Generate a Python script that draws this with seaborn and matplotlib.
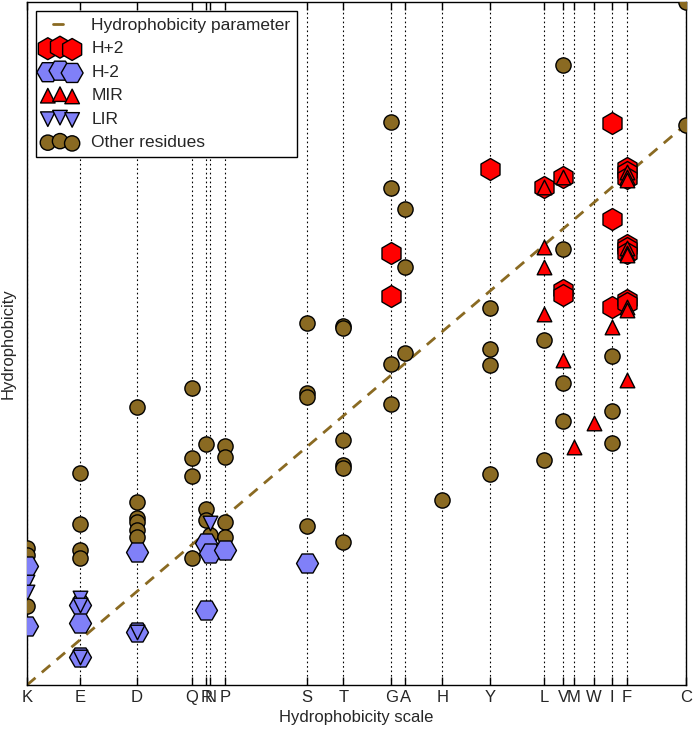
import numpy as np
import pandas as pd
import matplotlib
matplotlib.use("Agg")
import matplotlib.pyplot as plt
import seaborn as sns

# residues placed on the hydrophobicity scale (normalised, K = 0, C = 1)
residues = ["K", "E", "D", "Q", "R", "N", "P", "S", "T", "G",
            "A", "H", "Y", "L", "V", "M", "W", "I", "F", "C"]
scale = [0.000, 0.080, 0.167, 0.250, 0.272, 0.278, 0.301, 0.425, 0.480, 0.553,
         0.574, 0.630, 0.703, 0.785, 0.814, 0.830, 0.860, 0.888, 0.910, 1.000]

# other residues
other_res = (["K"] * 3 + ["E"] * 4 + ["D"] * 6 + ["Q"] * 4 + ["R"] * 3 + ["N"]
             + ["P"] * 4 + ["S"] * 4 + ["T"] * 6 + ["G"] * 4 + ["A"] * 3 + ["H"]
             + ["Y"] * 4 + ["L"] * 2 + ["V"] * 4 + ["I"] * 3 + ["C"] * 2)
other_val = [0.244, 0.232, 0.141,
             0.378, 0.287, 0.241, 0.226,
             0.496, 0.326, 0.298, 0.291, 0.276, 0.264,
             0.529, 0.405, 0.373, 0.226,
             0.430, 0.314, 0.294,
             0.267,
             0.426, 0.406, 0.291, 0.264,
             0.645, 0.520, 0.513, 0.283,
             0.640, 0.636, 0.437, 0.392, 0.387, 0.255,
             1.004, 0.886, 0.572, 0.501,
             0.848, 0.745, 0.592,
             0.330,
             0.672, 0.599, 0.570, 0.376,
             0.615, 0.401,
             1.105, 0.777, 0.538, 0.471,
             0.586, 0.488, 0.431,
             1.218, 0.998]

# H+2
hp2_res = ["G", "G", "Y", "L", "V", "V", "V", "I", "I", "I",
           "F", "F", "F", "F", "F", "F", "F", "F"]
hp2_val = [0.770, 0.693, 0.920, 0.888, 0.906, 0.704, 0.695, 1.002, 0.831, 0.674,
           0.922, 0.914, 0.904, 0.784, 0.779, 0.770, 0.686, 0.681]

# H-2
hm2_res = ["K", "K", "E", "E", "E", "D", "D", "R", "R", "N", "P", "S"]
hm2_val = [0.212, 0.105, 0.143, 0.111, 0.050, 0.237, 0.094, 0.253, 0.134,
           0.235, 0.241, 0.217]

# MIR
mir_res = ["L", "L", "L", "L", "V", "V", "M", "W", "I",
           "F", "F", "F", "F", "F", "F", "F", "F", "F"]
mir_val = [0.888, 0.781, 0.745, 0.661, 0.906, 0.579, 0.424, 0.467, 0.638,
           0.914, 0.906, 0.900, 0.779, 0.770, 0.766, 0.674, 0.668, 0.544]

# LIR
lir_res = ["K", "K", "E", "E", "E", "D", "N"]
lir_val = [0.184, 0.166, 0.155, 0.143, 0.050, 0.094, 0.289]

pos = dict(zip(residues, scale))


def make_df(res, val, name):
    return pd.DataFrame({"residue": res,
                         "scale": [pos[r] for r in res],
                         "hydro": val,
                         "group": name})


df = pd.concat([make_df(other_res, other_val, "Other residues"),
                make_df(hp2_res, hp2_val, "H+2"),
                make_df(hm2_res, hm2_val, "H-2"),
                make_df(mir_res, mir_val, "MIR"),
                make_df(lir_res, lir_val, "LIR")], ignore_index=True)

brown = "#8a6a22"
styles = {
    "Other residues": dict(marker="o", color=brown, s=120, zorder=3),
    "H+2": dict(marker="h", color="#ff0000", s=250, zorder=4),
    "H-2": dict(marker="H", color="#8080f8", s=250, zorder=4),
    "MIR": dict(marker="^", color="#ff0000", s=110, zorder=5),
    "LIR": dict(marker="v", color="#8080f8", s=110, zorder=5),
}

sns.set_style("white")
plt.rcParams["font.family"] = ["Liberation Sans", "DejaVu Sans"]
plt.rcParams["font.size"] = 12

fig = plt.figure(figsize=(6.94, 7.33), dpi=100)
ax = fig.add_axes([27 / 694, 1 - 685 / 733, 659 / 694, 683 / 733])

for x in scale:
    ax.axvline(x, color="black", lw=0.8, linestyle=(0, (1.5, 2.5)), zorder=0)

line, = ax.plot(scale, scale, color=brown, lw=2, linestyle=(0, (4, 3)),
                zorder=1, label="Hydrophobicity parameter")

handles = {}
for name in ["Other residues", "H+2", "H-2", "MIR", "LIR"]:
    st = styles[name]
    sub = df[df["group"] == name]
    sns.scatterplot(data=sub, x="scale", y="hydro", marker=st["marker"],
                    color=st["color"], s=st["s"], edgecolor="black",
                    linewidth=1, zorder=st["zorder"], label=name, ax=ax,
                    legend=False)
    handles[name] = ax.collections[-1]

ax.set_xlim(0, 1)
ax.set_ylim(0, 1.218)
ax.set_xticks(scale)
ax.set_xticklabels(residues)
ax.set_yticks([])
ax.tick_params(axis="x", direction="in", top=True, bottom=True, length=6,
               width=1, color="black", labelsize=12)
for sp in ax.spines.values():
    sp.set_color("black")
    sp.set_linewidth(1)
ax.set_xlabel("Hydrophobicity scale", fontsize=12)
ax.set_ylabel("Hydrophobicity", fontsize=12, labelpad=8)

order = ["H+2", "H-2", "MIR", "LIR", "Other residues"]
leg = ax.legend([line] + [handles[n] for n in order],
                ["Hydrophobicity parameter"] + order,
                loc="upper left", scatterpoints=3,
                scatteryoffsets=[0.375, 0.5, 0.3125],
                fancybox=False, framealpha=1, edgecolor="black",
                fontsize=12.5, handletextpad=0.8, labelspacing=0.48)
leg.get_frame().set_linewidth(1)
leg_line = leg.get_lines()[0]
xd = np.asarray(leg_line.get_xdata(), dtype=float)
yd = np.asarray(leg_line.get_ydata(), dtype=float)
L = xd.max() - xd.min()
leg_line.set_data([xd.min() + 0.3 * L, xd.min() + 0.6 * L], [yd[0], yd[0]])
leg_line.set_linestyle("-")

fig.savefig("out.png", dpi=100)
